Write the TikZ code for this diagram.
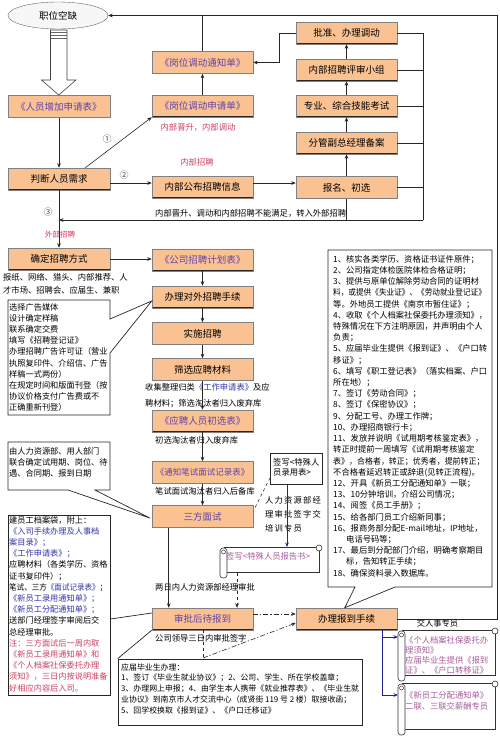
\documentclass[tikz,border=0pt]{standalone}
\usepackage{fontspec}
\usepackage{graphicx}
\setmainfont{Noto Sans CJK SC}
\newfontfamily\spacedcjk[LetterSpace=14]{Noto Sans CJK SC}
\usetikzlibrary{arrows.meta,shapes.geometric,calc}
\definecolor{boxfill}{RGB}{250,194,146}
\definecolor{cpurple}{RGB}{98,66,168}
\definecolor{cred}{RGB}{204,64,96}
\definecolor{cblue}{RGB}{34,34,150}
\definecolor{tblue}{RGB}{52,52,170}
\definecolor{cpink}{RGB}{168,92,156}
\newcommand\drawscroll[4]{%
  \draw[black!80, line width=0.6pt, fill=white] ({#1+4},{#2}) -- ({#3-3},{#2}) -- ({#3-3},{#4-6}) -- ({#1+4},{#4-6});
  \draw[black!80, line width=0.6pt, fill=white, rounded corners=3pt] ({#1},{#2+1}) rectangle ({#1+7},{#4});
  \draw[black!80, line width=0.6pt, fill=white] ({#3-3},{#2+1}) circle (3pt);
  \draw[black!80, line width=0.5pt] ({#1+3.5},{#2+5}) circle (2pt);
}
\begin{document}
\begin{tikzpicture}[x=1pt,y=-1pt,
  box/.style={rectangle, fill=boxfill, draw=black!50, line width=0.5pt, minimum height=22pt,
    minimum width=101pt, inner sep=0pt, font=\fontsize{9.5}{11}\selectfont,
    path picture={\draw[black!85,line width=1.6pt] (path picture bounding box.north west) -- (path picture bounding box.south west) -- (path picture bounding box.south east);}},
  lbox/.style={box, minimum width=102pt},
  ptxt/.style={text=cpurple},
  arr/.style={line width=0.6pt, draw=black!85, -{Stealth[length=4.5pt,width=3.6pt]}},
  ln/.style={line width=0.6pt, draw=black!85},
  note/.style={font=\fontsize{8.3}{11.3}\selectfont, inner sep=0pt, align=left, anchor=west},
  redtxt/.style={note, text=cred},
  frm/.style={draw=black!85, line width=0.7pt},
  bluearr/.style={line width=0.8pt, draw=cblue, -{Stealth[length=4.5pt,width=3.6pt]}},
  dashdot/.style={dash pattern=on 5pt off 2pt on 1.2pt off 2pt},
  num/.style={font=\fontsize{9}{10}\selectfont, text=black!70, inner sep=0pt},
  hold/.style={inner sep=0pt, outer sep=0pt}
]
\useasboundingbox[fill=white] (0,0) rectangle (500,741);

% ---------- top ellipse and hollow arrow
\node[ellipse, draw=black!60, fill=gray!6, minimum width=100pt, minimum height=27pt, inner sep=0pt,
  font=\fontsize{9.5}{11}\selectfont] (vac) at (58,15.5) {职位空缺};
\draw[black!75, line width=0.6pt, fill=white] (50.5,30) -- (67,30) -- (67,80) -- (76,80) -- (58.75,95) -- (41.5,80) -- (50.5,80) -- cycle;
\foreach \yy in {32.5,35.5,38.5} \draw[black!60, line width=0.8pt] (50.5,\yy) -- (67,\yy);

% ---------- left column
\node[lbox, ptxt] (add) at (59,106.5) {《人员增加申请表》};
\node[lbox] (judge) at (59,179) {判断人员需求};
\node[lbox] (method) at (59,259) {确定招聘方式};

% ---------- middle column
\node[box, ptxt] (notice) at (202.5,62.5) {《岗位调动通知单》};
\node[box, ptxt] (apply) at (202.5,106) {《岗位调动申请单》};
\node[box] (pub) at (202.5,187) {内部公布招聘信息};
\node[box, ptxt] (plan) at (202.5,260) {《公司招聘计划表》};
\node[box] (ext) at (202.5,297) {办理对外招聘手续};
\node[box] (impl) at (202.5,333.5) {实施招聘};
\node[box] (screen) at (202.5,369.5) {筛选应聘材料};
\node[box, ptxt] (prelim) at (202.5,421) {《应聘人员初选表》};
\node[box, ptxt, font=\fontsize{8.5}{10}\selectfont] (notifyexam) at (202.5,472.5) {《通知笔试面试记录表》};
\node[box, ptxt] (tri) at (202.5,516.5) {三方面试};
\node[box, ptxt] (approve) at (202.5,619) {审批后待报到};

% ---------- right column
\node[box] (ok) at (346.5,33) {批准、办理调动};
\node[box] (panel) at (346.5,70) {内部招聘评审小组};
\node[box] (exam) at (346.5,106) {专业、综合技能考试};
\node[box] (vp) at (346.5,143) {分管副总经理备案};
\node[box] (signup) at (346.5,187.5) {报名、初选};
\node[box] (report) at (346.5,619) {办理报到手续};

% ---------- labels
\node[redtxt, anchor=center] (lbl1) at (198,127) {内部晋升，内部调动};
\node[num] (n1) at (107,139) {①};
\node[redtxt, anchor=center] (lbl2) at (197,162) {内部招聘};
\node[num] (n2) at (124,175) {②};
\node[num] (n3) at (48,212) {③};
\node[note] (lbl3) at (155,213) {内部晋升、调动和内部招聘不能满足，转入外部招聘};
\node[redtxt, anchor=center, font=\fontsize{7.6}{9}\selectfont] (lbl4) at (60,235) {外部招聘};
\node[note, font=\fontsize{8.3}{12.5}\selectfont] (channels) at (3,284) {报纸、网络、猎头、内部推荐、人\\才市场、招聘会、应届生、兼职};
\node[note, font=\fontsize{8.3}{16}\selectfont] (collect) at (145,396) {收集整理归类\textcolor{tblue}{《工作申请表》}及应\\聘材料；筛选淘汰者归入废弃库};
\node[note] (lbl5) at (155,440) {初选淘汰者归入废弃库};
\node[note] (lbl6) at (155,491) {笔试面试淘汰者归入后备库};
\node[note] (lbl7) at (155,587) {两日内人力资源部经理审批};
\node[note] (lbl8) at (155,638) {公司领导三日内审批签字};
\node[note, anchor=center] (lbl9) at (437.5,623) {交人事专员};

% ---------- connectors: top part
\coordinate (b1) at (279,33);
\draw[arr] (ok.west) -- (b1) |- (notice.east);
\coordinate (rt) at (423,33);
\coordinate (rb) at (423,220);
\draw[ln] (ok.east) -- (rt) -- (rb);
\foreach \n in {panel,exam,vp,signup} \draw[ln] (\n.east) -- (\n.east -| rt);
\draw[ln] (signup.south) -- (signup.south |- rb);
\draw[arr] (rb) -- (rb -| judge.south);
\draw[arr] (signup.north) -- (vp.south);
\draw[arr] (vp.north) -- (exam.south);
\draw[arr] (exam.north) -- (panel.south);
\draw[arr] (panel.north) -- (ok.south);
\draw[arr] (apply.north) -- (notice.south);
\draw[ln] (notice.north) -- (notice.north |- vac.east);
\coordinate (fr) at (497,15.5);
\draw[arr] (report.east) -| (fr) -- (vac.east);
\draw[arr] (add.south) -- (judge.north);
\draw[arr] ($(judge.north east)+(-25,0)$) -- (apply.south west);
\draw[arr] ($(judge.east)+(0,4)$) -- ($(pub.west)+(0,-4)$);
\draw[arr] ($(pub.east)+(0,-4)$) -- ($(signup.west)+(0,-4.5)$);
\draw[arr] (judge.south) -- (method.north);
\draw[arr] (method.east) -- (method.east -| plan.west);
\draw[arr] (plan.south) -- (ext.north);
\draw[arr] (ext.south) -- (impl.north);
\draw[arr] (impl.south) -- (screen.north);
\draw[arr] (screen.south) -- (prelim.north);
\draw[arr] (prelim.south) -- (notifyexam.north);
\draw[arr] (notifyexam.south) -- (tri.north);
\draw[arr] ($(tri.south west)+(17,0)$) -- ($(approve.north west)+(17,0)$);

% ---------- callout boxes on the left
\node[hold, minimum width=102pt, minimum height=115pt] (ads) at (59,357.5) {};
\draw[frm] (ads.north west) -- (ads.north east) -- ($(ads.north east)+(0,19)$) -- ($(ext.west)+(0,4)$)
  -- ($(ads.north east)+(0,53)$) -- (ads.south east) -- (ads.south west) -- cycle;
\node[note, font=\fontsize{8.2}{11.2}\selectfont] (adstxt) at (9,357.5) {选择广告媒体\\设计确定样稿\\联系确定交费\\填写《招聘登记证》\\办理招聘广告许可证（营业\\执照复印件、介绍信、广告\\样稿一式两份）\\在规定时间和版面刊登（按\\协议价格支付广告费或不\\正确重新刊登）};

\node[hold, minimum width=102pt, minimum height=48pt] (hrbox) at (59,466) {};
\draw[frm] (hrbox.north west) -- (hrbox.north east) -- (hrbox.south east) -- ($(hrbox.south east)+(-15,0)$)
  -- ($(tri.west)+(-2,1.5)$) -- ($(hrbox.south west)+(60,0)$) -- (hrbox.south west) -- cycle;
\node[note, font=\fontsize{8.2}{11}\selectfont] (hrtxt1) at (9,462) {由人力资源部、用人部门\\联合确定试用期、岗位、待\\遇、合同期、报到日期};

\node[draw=black!85, line width=0.7pt, minimum width=102pt, minimum height=180pt, inner sep=0pt] (filebox) at (59,605) {};
\draw[frm] ($(filebox.east)+(0,14)$) -- ($(approve.west)+(0,-6)$);
\node[note, font=\fontsize{8.2}{11.2}\selectfont] (filetxt) at (9,604) {建员工档案袋，附上：\\
\textcolor{tblue}{《入司手续办理及人事档}\\
\textcolor{tblue}{案目录》；}\\
\textcolor{tblue}{《工作申请表》；}\\
应聘材料（各类学历、资格\\
证书复印件）；\\
\scalebox{0.92}[1]{笔试、三方\textcolor{tblue}{《面试记录表》}；}\\
\textcolor{tblue}{《新员工录用通知单》；}\\
\textcolor{tblue}{《新员工分配通知单》；}\\
送部门经理签字审阅后交\\
总经理审批。\\
\textcolor{cred}{注：三方面试后一周内取}\\
\textcolor{cred}{《新员工录用通知单》和}\\
\textcolor{cred}{《个人档案社保委托办理}\\
\textcolor{cred}{须知》，三日内按说明准备}\\
\textcolor{cred}{好相应内容后入司。}};

% ---------- special-person branch
\node[draw=black!85, line width=0.6pt, minimum width=52pt, minimum height=31pt, inner sep=0pt] (sp) at (296,468.5) {};
\node[note, font=\fontsize{8.3}{10}\selectfont] (sptxt) at (273,467.5) {签写<特殊人\\员录用表>};
\draw[ln, dashed] ($(tri.north east)+(2,2)$) -- ($(sp.south west)+(0,-6)$);
\node[note, font={\spacedcjk\fontsize{8.3}{14}\selectfont}] (hrsign) at (265,514) {人力资源部经\\理审批签字交\\培训专员};
\drawscroll{220}{547}{322}{578}
\node[hold, minimum width=102pt, minimum height=26pt] (spscroll) at (271,560) {};
\node[note, text=cpink] (spscrolltxt) at (226,556) {签写<特殊人员报告书>};
\coordinate (spb) at (287,547);
\draw[bluearr] (sp.south -| spb) -- (spb);
\coordinate (dx) at (237,573);
\draw[arr, dashed] (dx) -- (dx |- approve.north);

% ---------- approve -> report
\draw[arr, dashdot] ($(approve.east)+(0,-5)$) -- ($(report.west)+(0,-5)$);
\coordinate (dd) at (203,658);
\draw[ln, dashed] (approve.south -| dd) -- (dd);
\draw[arr, dashdot] (dd) -- ($(report.west)+(0,4)$);

% ---------- graduate box
\node[draw=black!85, line width=0.7pt, minimum width=244pt, minimum height=66pt, inner sep=0pt] (gradbox) at (240,692) {};
\draw[frm] (approve.south west) -- (gradbox.north west);
\node[note, font=\fontsize{7.9}{10.75}\selectfont] (gradtxt) at (121,688.5) {应届毕业生办理：\\1、签订《毕业生就业协议》；2、公司、学生、所在学校盖章；\\3、办理网上申报；4、由学生本人携带《就业推荐表》、《毕业生就\\业协议》到南京市人才交流中心（成贤街 119 号 2 楼）取接收函；\\5、回学校换取《报到证》、《户口迁移证》};

% ---------- right list box
\node[hold, minimum width=164pt, minimum height=337pt] (list) at (410,418.5) {};
\draw[frm] (list.north west) -- (list.north east) -- (list.south east) -- ($(list.south west)+(67,0)$)
  -- ($(report.north west)+(49,0)$) -- ($(list.south west)+(27,0)$) -- (list.south west) -- cycle;
\node[note, font=\fontsize{8.3}{11.21}\selectfont] (listtxt) at (333,416) {1、核实各类学历、资格证书证件原件；\\
2、公司指定体检医院体检合格证明；\\
3、提供与原单位解除劳动合同的证明材\\
\scalebox{0.92}[1]{料，或提供《失业证》、《劳动就业登记证》}\\
等。外地员工提供《南京市暂住证》；\\
4、收取《个人档案社保委托办理须知》，\\
特殊情况在下方注明原因，并声明由个人\\
负责；\\
5、应届毕业生提供《报到证》、《户口转\\
移证》；\\
6、填写《职工登记表》（落实档案、户口\\
所在地）；\\
7、签订《劳动合同》；\\
8、签订《保密协议》；\\
9、分配工号、办理工作牌；\\
10、办理招商银行卡；\\
11、发放并说明《试用期考核鉴定表》，\\
转正时提前一周填写《试用期考核鉴定\\
\scalebox{0.96}[1]{表》，合格者，转正；优秀者，提前转正；}\\
不合格者延迟转正或辞退(见转正流程)。\\
12、开具《新员工分配通知单》一联；\\
13、10分钟培训，介绍公司情况；\\
14、阅签《员工手册》；\\
15、给各部门员工介绍新同事；\\
16、报商务部分配E-mail地址，IP地址，\\
\hspace*{13pt}电话号码等；\\
17、最后到分配部门介绍，明确考察期目\\
\hspace*{13pt}标，告知转正手续；\\
18、确保资料录入数据库。};

% ---------- bottom-right scrolls
\drawscroll{398}{630}{498}{681}
\drawscroll{398}{683}{498}{735}
\node[hold, minimum width=100pt, minimum height=50pt] (s1) at (448,655) {};
\node[hold, minimum width=100pt, minimum height=52pt] (s2) at (448,709) {};
\node[note, text=cpink, font=\fontsize{8.3}{9.8}\selectfont] (s1txt) at (405,655.5) {《个人档案社保委托办\\理须知》\\应届毕业生提供《报到\\证》、《户口转移证》};
\node[note, text=cpink, font=\fontsize{8.3}{10.5}\selectfont] (s2txt) at (405,701) {《新员工分配通知单》\\二联、三联交薪酬专员};
\coordinate (rb1) at (382,637);
\coordinate (rb2) at (382,695);
\draw[line width=0.8pt, draw=cblue] (report.south -| rb1) -- (rb2);
\draw[bluearr] (rb1) -- (rb1 -| s1.west);
\draw[bluearr] (rb2) -- (rb2 -| s2.west);
\end{tikzpicture}
\end{document}
